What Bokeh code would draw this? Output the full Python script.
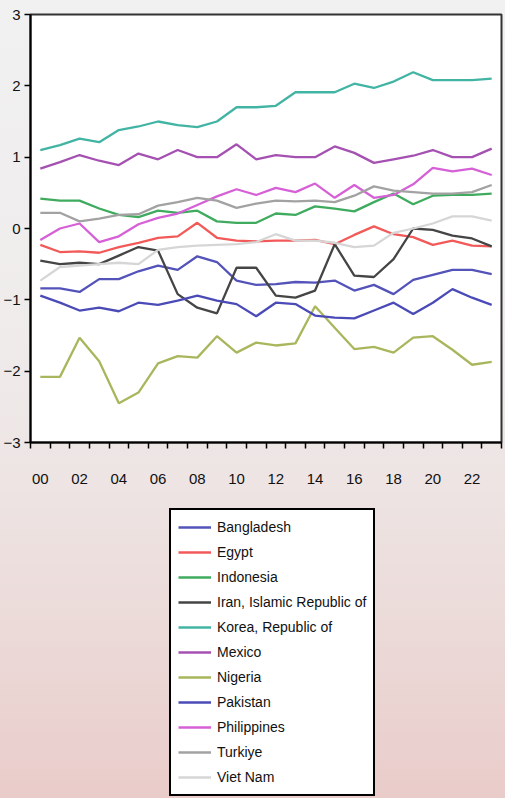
from bokeh.plotting import figure
from bokeh.layouts import column
from bokeh.models import Range1d, FixedTicker, Legend, LegendItem
from bokeh.embed import file_html
from bokeh.resources import INLINE

years = list(range(2000, 2024))
tick_years = [2000, 2002, 2004, 2006, 2008, 2010, 2012, 2014, 2016, 2018, 2020, 2022]
tick_labels = ["00", "02", "04", "06", "08", "10", "12", "14", "16", "18", "20", "22"]
y_ticks = [-3, -2, -1, 0, 1, 2, 3]

countries = ["Bangladesh", "Egypt", "Indonesia", "Iran, Islamic Republic of",
             "Korea, Republic of", "Mexico", "Nigeria", "Pakistan",
             "Philippines", "Turkiye", "Viet Nam"]

bangladesh = [-0.84, -0.84, -0.89, -0.71, -0.71, -0.60, -0.52, -0.58, -0.39, -0.47, -0.73, -0.79,
              -0.78, -0.75, -0.76, -0.73, -0.87, -0.79, -0.92, -0.72, -0.65, -0.58, -0.58, -0.64]
egypt = [-0.23, -0.33, -0.32, -0.34, -0.26, -0.20, -0.13, -0.11, 0.08, -0.13, -0.17, -0.18,
         -0.17, -0.17, -0.16, -0.22, -0.09, 0.03, -0.08, -0.12, -0.23, -0.17, -0.24, -0.25]
indonesia = [0.42, 0.39, 0.39, 0.28, 0.19, 0.16, 0.25, 0.22, 0.25, 0.10, 0.08, 0.08,
             0.21, 0.19, 0.31, 0.28, 0.24, 0.37, 0.49, 0.34, 0.46, 0.47, 0.47, 0.49]
iran = [-0.45, -0.50, -0.48, -0.50, -0.38, -0.26, -0.31, -0.92, -1.11, -1.19, -0.55, -0.55,
        -0.94, -0.97, -0.87, -0.22, -0.66, -0.68, -0.43, 0.00, -0.02, -0.10, -0.14, -0.25]
korea = [1.10, 1.17, 1.26, 1.21, 1.38, 1.43, 1.50, 1.45, 1.42, 1.50, 1.70, 1.70,
         1.72, 1.91, 1.91, 1.91, 2.03, 1.97, 2.06, 2.19, 2.08, 2.08, 2.08, 2.10]
mexico = [0.84, 0.93, 1.03, 0.95, 0.89, 1.05, 0.97, 1.10, 1.00, 1.00, 1.18, 0.97,
          1.03, 1.00, 1.00, 1.15, 1.06, 0.92, 0.97, 1.02, 1.10, 1.00, 1.00, 1.12]
nigeria = [-2.08, -2.08, -1.53, -1.86, -2.45, -2.30, -1.89, -1.79, -1.81, -1.51, -1.74, -1.60,
           -1.64, -1.61, -1.09, -1.39, -1.69, -1.66, -1.74, -1.53, -1.51, -1.70, -1.91, -1.87]
pakistan = [-0.94, -1.04, -1.15, -1.11, -1.16, -1.04, -1.07, -1.01, -0.94, -1.01, -1.06, -1.23,
            -1.04, -1.06, -1.22, -1.25, -1.26, -1.15, -1.04, -1.20, -1.04, -0.85, -0.97, -1.07]
philippines = [-0.16, 0.00, 0.07, -0.19, -0.11, 0.06, 0.15, 0.21, 0.33, 0.45, 0.55, 0.47,
               0.57, 0.51, 0.63, 0.43, 0.61, 0.43, 0.47, 0.62, 0.85, 0.80, 0.84, 0.75]
turkiye = [0.22, 0.22, 0.10, 0.14, 0.19, 0.20, 0.32, 0.37, 0.43, 0.39, 0.29, 0.35,
           0.39, 0.38, 0.39, 0.37, 0.46, 0.59, 0.53, 0.51, 0.49, 0.49, 0.51, 0.61]
viet_nam = [-0.73, -0.54, -0.52, -0.50, -0.48, -0.50, -0.30, -0.26, -0.24, -0.23, -0.22, -0.19,
            -0.08, -0.17, -0.17, -0.20, -0.26, -0.24, -0.06, 0.00, 0.07, 0.17, 0.17, 0.11]

series = [bangladesh, egypt, indonesia, iran, korea, mexico, nigeria, pakistan,
          philippines, turkiye, viet_nam]
colors = ["#5353b9", "#f25a5a", "#3fab5e", "#454545", "#42b4a4", "#a451b2",
          "#a9b65c", "#4b4bb8", "#d660d6", "#a2a2a2", "#d6d6d6"]

FONT = "Liberation Sans"

# ---- chart ----
p = figure(width=505, height=487, output_backend="svg", toolbar_location=None,
           x_range=Range1d(1999.5, 2023.5), y_range=Range1d(-3, 3),
           min_border_left=21, min_border_right=4, min_border_top=14,
           min_border_bottom=45)
p.styles = {"background": "linear-gradient(to bottom, #f1f1f1 0%, #efebeb 70%, #ede4e3 100%)"}
p.border_fill_color = None
p.background_fill_color = "white"
p.outline_line_color = "#333333"
p.outline_line_width = 2
p.grid.visible = False

for vals, col in zip(series, colors):
    p.line(years, vals, line_color=col, line_width=2.3)

xa = p.xaxis[0]
xa.ticker = FixedTicker(ticks=tick_years,
                        minor_ticks=[y - 0.5 for y in years] + [2023.5])
xa.major_label_overrides = {y: lab for y, lab in zip(tick_years, tick_labels)}
xa.major_tick_line_color = None
xa.major_tick_out = 0
xa.major_tick_in = 0
xa.minor_tick_line_color = "black"
xa.minor_tick_line_width = 1.5
xa.minor_tick_out = 6
xa.minor_tick_in = 0
xa.major_label_standoff = 25
xa.axis_line_color = "black"
xa.axis_line_width = 2

ya = p.yaxis[0]
ya.ticker = FixedTicker(ticks=y_ticks, minor_ticks=[])
ya.major_tick_out = 6
ya.major_tick_in = 0
ya.major_tick_line_width = 1.5
ya.major_label_standoff = 4
ya.axis_line_color = "black"
ya.axis_line_width = 2

for ax in (xa, ya):
    ax.major_label_text_font = FONT
    ax.major_label_text_font_size = "15px"
    ax.major_label_text_color = "#111111"

# ---- legend panel (same series, drawn outside its visible range) ----
p2 = figure(width=505, height=311, output_backend="svg", toolbar_location=None,
            x_range=Range1d(0, 1), y_range=Range1d(0, 1),
            x_axis_type=None, y_axis_type=None,
            min_border_left=0, min_border_right=0, min_border_top=0, min_border_bottom=0)
p2.styles = {"background": "linear-gradient(to bottom, #ede4e3 0%, #ebd9d7 50%, #e9ccca 100%)"}
p2.border_fill_color = None
p2.background_fill_color = None
p2.outline_line_color = None
p2.grid.visible = False

renderers = []
for vals, col in zip(series, colors):
    r = p2.line(years, vals, line_color=col, line_width=2.3)
    renderers.append(r)

items = [LegendItem(label=c, renderers=[r]) for c, r in zip(countries, renderers)]
legend = Legend(items=items, location=(139, 2), orientation="vertical",
                label_text_font=FONT, label_text_font_size="14px",
                label_text_color="#111111",
                glyph_width=33, glyph_height=20, label_height=20, spacing=5,
                label_standoff=6, padding=7, margin=0,
                border_line_color="black", border_line_width=2, border_line_alpha=1,
                background_fill_color="white", background_fill_alpha=1)
p2.add_layout(legend, "center")

layout = column(p, p2, spacing=0)
open("out.html", "w").write(file_html(layout, INLINE))
